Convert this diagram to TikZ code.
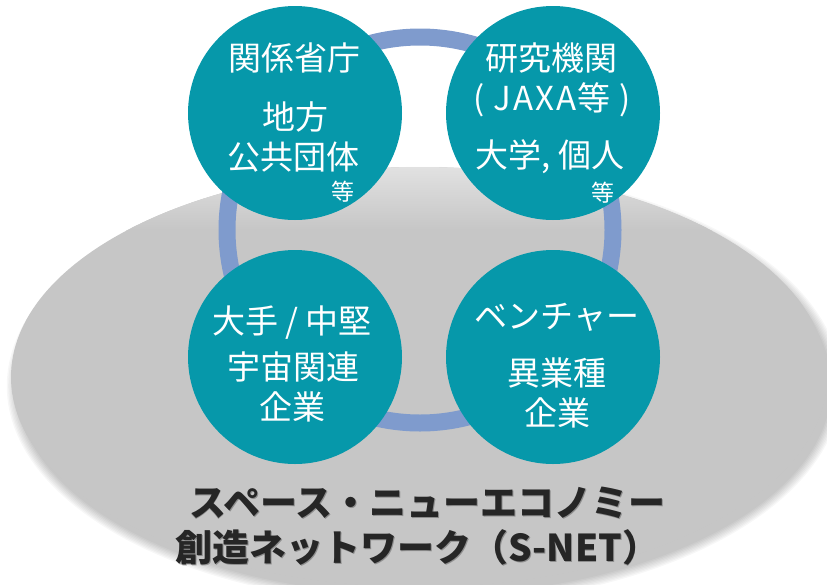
\documentclass[tikz,border=0pt]{standalone}
\usepackage{fontspec}
\newfontfamily\jp{Noto Sans CJK JP}
\definecolor{snteal}{HTML}{0698AA}
\definecolor{snring}{HTML}{7F9BCD}
\definecolor{sngray}{HTML}{C6C6C6}
\definecolor{snlight}{HTML}{E2E2E2}
\definecolor{sntext}{HTML}{262626}
\tikzset{
  bubble/.style={circle, fill=snteal, minimum size=214pt, inner sep=0pt},
  txt/.style={text=white, font=\jp\fontsize{33}{39}\selectfont, inner sep=0pt},
  small/.style={text=white, font=\jp\fontsize{23}{27}\selectfont, inner sep=0pt},
  title/.style={text=sntext, font=\jp\bfseries\fontsize{37}{43}\selectfont, inner sep=0pt},
  ringstyle/.style={circle, draw=snring, line width=17pt, minimum size=386pt, inner sep=0pt}
}
\begin{document}
\begin{tikzpicture}[x=1pt,y=1pt]
\useasboundingbox (0,0) rectangle (827,-584);
\clip (0,0) rectangle (827,-584);
% soft shadow of the big ellipse
\foreach \i [evaluate=\i as \rx using 406+1.4*\i, evaluate=\i as \ry using 208+1.4*\i] in {1,...,8}
  \fill[black, opacity=0.03] (424,-386) ellipse [x radius=\rx pt, y radius=\ry pt];
% big ellipse
\begin{scope}
  \clip (419,-377) ellipse [x radius=408pt, y radius=210pt];
  \fill[sngray] (0,0) rectangle (827,-600);
  \shade[top color=snlight, bottom color=sngray] (0,-165) rectangle (827,-230);
\end{scope}
% ring
\node[ringstyle] (ring) at (420,-230) {};
% bubbles
\node[bubble] (gov) at (295,-113) {};
\node[bubble] (res) at (553,-113) {};
\node[bubble] (ent) at (295,-357) {};
\node[bubble] (ven) at (553,-357) {};
% texts
\node[txt] (gov1) at (294,-58) {関係省庁};
\node[txt] (gov2) at (295,-117) {地方};
\node[txt] (gov3) at (293,-157) {公共団体};
\node[small] (gov4) at (343,-192) {等};
\node[txt] (res1) at (551,-58) {研究機関};
\node[txt] (res2) at (552,-100) {(\hspace{9pt}J\hspace{2pt}A\hspace{2pt}X\hspace{2pt}A\hspace{1pt}等\hspace{9pt})};
\node[txt] (res3) at (550,-157) {大学, 個人};
\node[small] (res4) at (603,-193) {等};
\node[txt] (ent1) at (292,-323) {大手 / 中堅};
\node[txt] (ent2) at (293,-367) {宇宙関連};
\node[txt] (ent3) at (292,-407) {企業};
\node[txt] (ven1) at (557,-317) {ベンチャー};
\node[txt] (ven2) at (557,-373) {異業種};
\node[txt] (ven3) at (557,-413) {企業};
% bottom title
\node[title, opacity=0.35] at (428,-504) {スペース・ニューエコノミー};
\node[title, opacity=0.35] at (418,-548) {創造ネットワーク（S-NET）};
\node[title] (t1) at (427.3,-503.3) {スペース・ニューエコノミー};
\node[title] (t2) at (417.3,-547.3) {創造ネットワーク（S-NET）};
\end{tikzpicture}
\end{document}
